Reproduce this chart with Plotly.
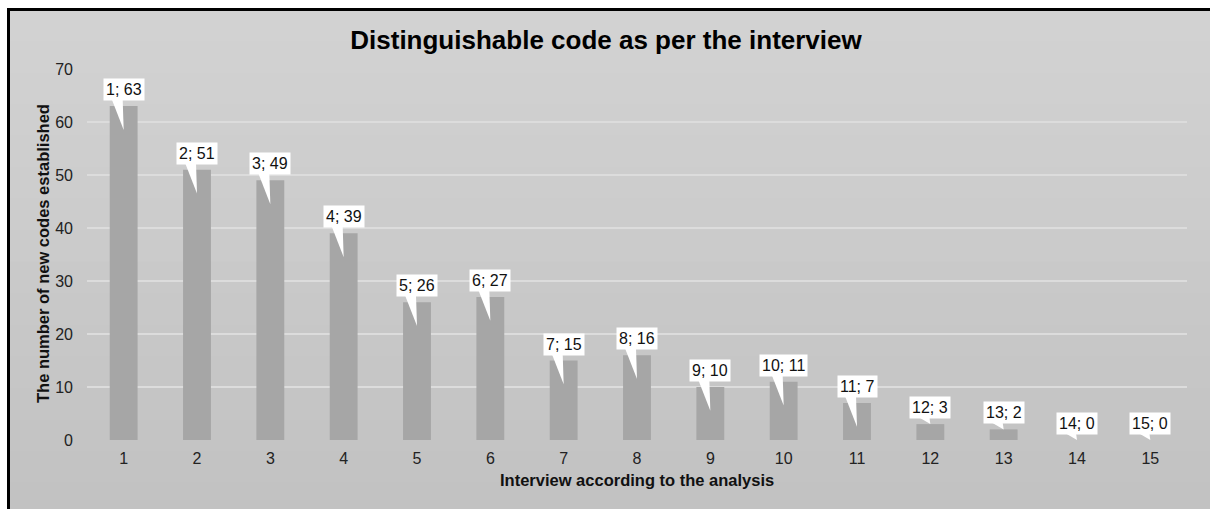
import plotly.graph_objects as go

interviews = list(range(1, 16))
new_codes = [63, 51, 49, 39, 26, 27, 15, 16, 10, 11, 7, 3, 2, 0, 0]
y_ticks = [0, 10, 20, 30, 40, 50, 60, 70]

W, H = 1210, 509
L, R, T, B = 87, 23, 69, 69
PW, PH = W - L - R, H - T - B
XR = (0.5, 15.5)
YR = (0, 70)
px_x = (XR[1] - XR[0]) / PW   # data units per px
px_y = (YR[1] - YR[0]) / PH
FONT = "Liberation Sans, Arial"

def paper_x(px):
    return (px - L) / PW

def paper_y(py):
    return (H - B - py) / PH

fig = go.Figure()
fig.add_trace(go.Bar(
    x=interviews, y=new_codes, width=0.38,
    marker=dict(color="#a6a6a6", line=dict(width=0)),
    hoverinfo="skip",
))

shapes = []
# gradient background bands
n = 16
top_c, bot_c = 0xd2, 0xc2
y_start, y_end = 9, H + 5
for i in range(n):
    c = round(top_c + (bot_c - top_c) * i / (n - 1))
    col = f"rgb({c},{c},{c})"
    y0 = y_start + (y_end - y_start) * i / n
    y1 = y_start + (y_end - y_start) * (i + 1) / n + 1
    shapes.append(dict(type="rect", xref="paper", yref="paper", layer="below",
                       x0=paper_x(9), x1=paper_x(W + 5), y0=paper_y(y0), y1=paper_y(y1),
                       fillcolor=col, line=dict(width=0)))
# black border
shapes.append(dict(type="rect", xref="paper", yref="paper", layer="above",
                   x0=paper_x(8.5), x1=paper_x(W + 10), y0=paper_y(9.5), y1=paper_y(H + 10),
                   fillcolor="rgba(0,0,0,0)", line=dict(color="black", width=3)))

annotations = []
for xi, v in zip(interviews, new_codes):
    base_y = v + 7 * px_y
    tip_y = v - 4.5 if v > 4.5 else v
    path = (f"M {xi - 12*px_x},{base_y} L {xi - 1*px_x},{base_y} "
            f"L {xi},{tip_y} Z")
    shapes.append(dict(type="path", xref="x", yref="y", layer="above", path=path,
                       fillcolor="white", line=dict(width=0)))
    annotations.append(dict(x=xi, y=v, xref="x", yref="y", text=f"{xi}; {v}",
                            showarrow=False, yanchor="bottom", yshift=5,
                            bgcolor="white", borderpad=2,
                            font=dict(size=16, color="#111", family=FONT)))

annotations.append(dict(xref="paper", yref="paper", x=paper_x(43), y=paper_y(254),
                        xanchor="center", yanchor="middle",
                        text="<b>The number of new codes established</b>", textangle=-90,
                        showarrow=False, font=dict(size=16.5, color="#111", family=FONT)))
annotations.append(dict(xref="paper", yref="paper", x=paper_x(637), y=paper_y(480),
                        xanchor="center", yanchor="middle",
                        text="<b>Interview according to the analysis</b>",
                        showarrow=False, font=dict(size=16.5, color="#111", family=FONT)))

fig.update_layout(
    width=W, height=H,
    margin=dict(l=L, r=R, t=T, b=B, autoexpand=False),
    paper_bgcolor="white",
    plot_bgcolor="rgba(0,0,0,0)",
    showlegend=False,
    title=dict(text="<b>Distinguishable code as per the interview</b>",
               x=606 / W, xanchor="center", y=1 - 40 / H, yanchor="middle",
               font=dict(size=26, color="#000", family=FONT)),
    font=dict(family=FONT, color="#333", size=16),
    xaxis=dict(range=list(XR), tickmode="array", tickvals=interviews,
               ticktext=[str(i) for i in interviews], showgrid=False, zeroline=False,
               showline=False, ticks="", ticklabelstandoff=7,
               tickfont=dict(size=16, color="#222")),
    yaxis=dict(range=list(YR), tickmode="array", tickvals=y_ticks,
               showgrid=True, gridcolor="#dcdcdc", gridwidth=1.5, zeroline=False,
               showline=False, ticks="", ticklabelstandoff=13,
               tickfont=dict(size=16, color="#222")),
    shapes=shapes,
    annotations=annotations,
    bargap=0.6,
)

fig.write_html("out.html")
